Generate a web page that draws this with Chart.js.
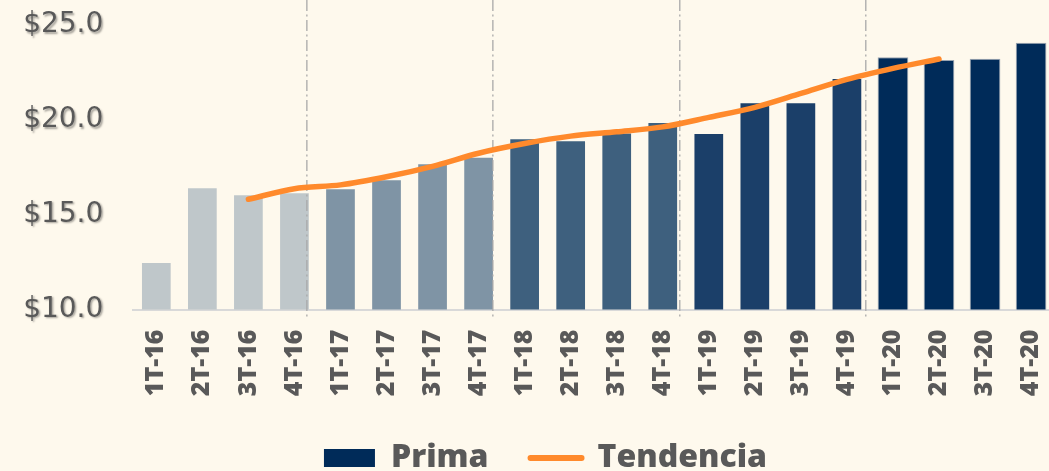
<!DOCTYPE html>
<html>
<head>
<meta charset="utf-8">
<script src="https://cdn.jsdelivr.net/npm/chart.js@4.4.1/dist/chart.umd.min.js"></script>
<style>
  html, body { margin: 0; padding: 0; background: #FEF9ED; overflow: hidden; width: 1049px; height: 471px; }
  #wrap { position: absolute; left: 0; top: 0; width: 1091px; height: 484px; }
</style>
</head>
<body>
<div id="wrap"><canvas id="c" width="1091" height="484"></canvas></div>
<script>
const categories = ['1T-16','2T-16','3T-16','4T-16','1T-17','2T-17','3T-17','4T-17','1T-18','2T-18','3T-18','4T-18','1T-19','2T-19','3T-19','4T-19','1T-20','2T-20','3T-20','4T-20'];
const primaValues = [12.51, 16.44, 16.07, 16.18, 16.39, 16.87, 17.71, 18.05, 19.03, 18.93, 19.33, 19.88, 19.30, 20.93, 20.93, 22.20, 23.30, 23.15, 23.22, 24.07];
const tendenciaValues = [null, null, 15.81, 16.37, 16.57, 17.00, 17.55, 18.24, 18.75, 19.14, 19.37, 19.63, 20.13, 20.66, 21.39, 22.13, 22.71, 23.21, null, null];
const yearColors = ['#BFC7CA', '#7F94A5', '#3E607E', '#1B3F69', '#002B59'];
const yearBoundaries = [3.27, 7.31, 11.37, 15.41];
const yMin = 10, yMax = 25, yStep = 5;

const barColors = categories.map((c, i) => yearColors[Math.floor(i / 4)]);
const barBorders = categories.map((c, i) => Math.floor(i / 4) === 4 ? '#9AA5B1' : 'rgba(0,0,0,0)');
const ORANGE = '#FF8A2C';
const GREY_TEXT = '#595959';

const separators = {
  id: 'separators',
  afterDatasetDraw(chart, args) {
    if (args.index !== 0) return;
    const ctx = chart.ctx, x = chart.scales.x;
    ctx.save();
    ctx.strokeStyle = '#A9A9A9';
    ctx.lineWidth = 1.3;
    ctx.setLineDash([11, 3.5, 2, 3.5]);
    yearBoundaries.forEach(v => {
      const px = x.getPixelForValue(v);
      ctx.beginPath();
      ctx.moveTo(px, 0);
      ctx.lineTo(px, chart.chartArea.bottom + 7.5);
      ctx.stroke();
    });
    ctx.restore();
  }
};

const labelShadow = {
  id: 'labelShadow',
  afterLayout(chart) {
    const s = chart.scales.y;
    if (s._shadowPatched) return;
    s._computeLabelArea = () => undefined;
    const orig = s.drawLabels.bind(s);
    s.drawLabels = function(area) {
      const ctx = chart.ctx;
      ctx.save();
      ctx.shadowColor = 'rgba(0,0,0,0.35)';
      ctx.shadowOffsetX = 1.5;
      ctx.shadowOffsetY = 1.5;
      ctx.shadowBlur = 2;
      orig(area);
      ctx.restore();
    };
    s._shadowPatched = true;
  }
};

new Chart(document.getElementById('c'), {
  data: {
    labels: categories,
    datasets: [
      {
        type: 'bar',
        label: 'Prima',
        data: primaValues,
        backgroundColor: barColors,
        borderColor: barBorders,
        borderWidth: 1,
        borderSkipped: 'bottom',
        categoryPercentage: 1.0,
        barPercentage: 0.667,
        order: 1
      },
      {
        type: 'line',
        label: 'Tendencia',
        data: tendenciaValues,
        borderColor: ORANGE,
        backgroundColor: ORANGE,
        borderWidth: 5.5,
        borderCapStyle: 'round',
        borderJoinStyle: 'round',
        pointRadius: 0,
        tension: 0.3,
        fill: false,
        order: 0
      }
    ]
  },
  options: {
    responsive: false,
    animation: false,
    devicePixelRatio: 1,
    layout: { padding: { left: 36.9, right: 36.9, top: 25, bottom: 0 } },
    plugins: {
      tooltip: { enabled: false },
      legend: {
        position: 'bottom',
        labels: {
          usePointStyle: true,
          pointStyleWidth: 51,
          boxWidth: 51,
          boxHeight: 18,
          padding: 42,
          color: GREY_TEXT,
          font: { family: 'Open Sans', size: 32, weight: '800' },
          generateLabels(chart) {
            const items = Chart.defaults.plugins.legend.labels.generateLabels(chart);
            items.sort((a, b) => a.datasetIndex - b.datasetIndex);
            items.forEach(it => {
              if (it.datasetIndex === 0) {
                it.pointStyle = 'rect';
                it.fillStyle = yearColors[4];
                it.strokeStyle = yearColors[4];
                it.lineWidth = 0;
              } else {
                it.pointStyle = 'line';
                it.strokeStyle = ORANGE;
                it.fillStyle = ORANGE;
                it.lineWidth = 6;
                it.lineCap = 'round';
              }
            });
            return items;
          }
        }
      }
    },
    scales: {
      x: {
        type: 'category',
        offset: true,
        grid: { display: false, drawTicks: false },
        border: { display: true, color: '#D9D9D9', width: 2 },
        ticks: {
          color: GREY_TEXT,
          font: { family: 'Open Sans', size: 25, weight: '800' },
          minRotation: 90,
          maxRotation: 90,
          padding: 20,
          autoSkip: false
        },
        afterFit(s) { s.height = 90.5; }
      },
      y: {
        type: 'linear',
        min: yMin,
        max: yMax,
        grid: { display: false, drawTicks: false },
        border: { display: false },
        ticks: {
          stepSize: yStep,
          padding: 30,
          color: GREY_TEXT,
          font: { family: 'DejaVu Sans', size: 28 },
          callback: v => '$' + Number(v).toFixed(1)
        },
        afterFit(s) { s.width = 96.4; s.paddingTop = 0; s.paddingBottom = 0; }
      }
    }
  },
  plugins: [separators, labelShadow]
});
</script>
</body>
</html>
